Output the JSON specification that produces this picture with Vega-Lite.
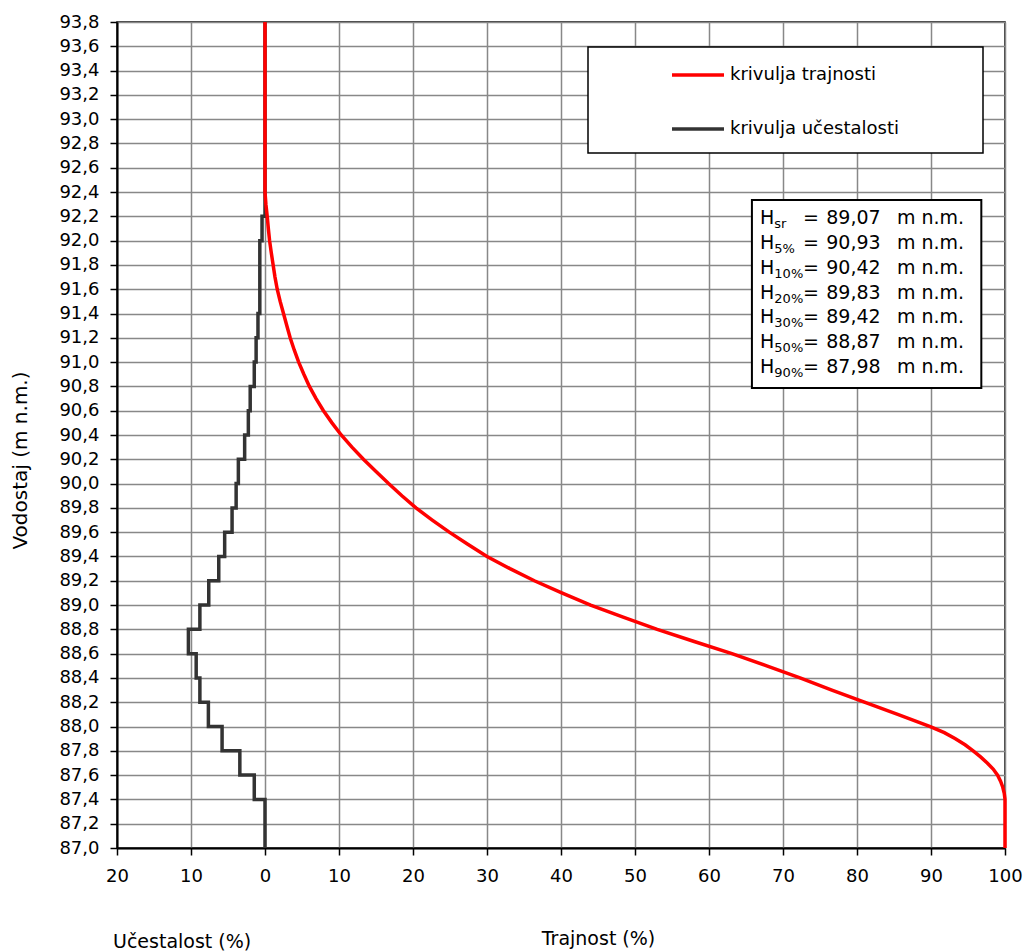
{
  "$schema": "https://vega.github.io/schema/vega-lite/v6.json",
  "width": 888,
  "height": 826,
  "autosize": {"type": "none"},
  "padding": {"left": 117, "top": 22, "right": 20, "bottom": 104},
  "background": "#ffffff",
  "title": {"text": "Učestalost (%)", "orient": "bottom", "anchor": "start", "frame": "group", "offset": -15, "dx": -4, "font": "DejaVu Sans", "fontSize": 19, "fontWeight": "normal", "color": "#000000"},
  "config": {
    "font": "DejaVu Sans",
    "view": {"stroke": "#000000", "strokeWidth": 1.5},
    "legend": {"strokeWidth": 1.5},
    "axis": {
      "grid": true, "gridColor": "#888888", "gridWidth": 1.5,
      "domainColor": "#000000", "domainWidth": 2,
      "tickColor": "#000000", "tickSize": 7, "tickWidth": 1.5,
      "labelFontSize": 18, "labelColor": "#000000", "labelFlush": false, "labelOverlap": false,
      "titleFontWeight": "normal", "titleColor": "#000000", "titleAlign": "center", "titleBaseline": "middle"
    },
    "axisX": {"labelPadding": 12, "titleFontSize": 19, "titleX": 481, "titleY": 90},
    "axisY": {"labelPadding": 11, "titleFontSize": 20, "titleX": -97, "titleY": 438, "titleAngle": -90}
  },
  "datasets": {
    "ucestalost": [
      {"vodostaj": 93.8, "postotak": 0, "krivulja": "krivulja učestalosti"},
      {"vodostaj": 92.2, "postotak": -0.4, "krivulja": "krivulja učestalosti"},
      {"vodostaj": 92.0, "postotak": -0.7, "krivulja": "krivulja učestalosti"},
      {"vodostaj": 91.8, "postotak": -0.7, "krivulja": "krivulja učestalosti"},
      {"vodostaj": 91.6, "postotak": -0.7, "krivulja": "krivulja učestalosti"},
      {"vodostaj": 91.4, "postotak": -0.95, "krivulja": "krivulja učestalosti"},
      {"vodostaj": 91.2, "postotak": -1.2, "krivulja": "krivulja učestalosti"},
      {"vodostaj": 91.0, "postotak": -1.45, "krivulja": "krivulja učestalosti"},
      {"vodostaj": 90.8, "postotak": -2.0, "krivulja": "krivulja učestalosti"},
      {"vodostaj": 90.6, "postotak": -2.25, "krivulja": "krivulja učestalosti"},
      {"vodostaj": 90.4, "postotak": -2.75, "krivulja": "krivulja učestalosti"},
      {"vodostaj": 90.2, "postotak": -3.6, "krivulja": "krivulja učestalosti"},
      {"vodostaj": 90.0, "postotak": -3.9, "krivulja": "krivulja učestalosti"},
      {"vodostaj": 89.8, "postotak": -4.45, "krivulja": "krivulja učestalosti"},
      {"vodostaj": 89.6, "postotak": -5.45, "krivulja": "krivulja učestalosti"},
      {"vodostaj": 89.4, "postotak": -6.25, "krivulja": "krivulja učestalosti"},
      {"vodostaj": 89.2, "postotak": -7.6, "krivulja": "krivulja učestalosti"},
      {"vodostaj": 89.0, "postotak": -8.8, "krivulja": "krivulja učestalosti"},
      {"vodostaj": 88.8, "postotak": -10.35, "krivulja": "krivulja učestalosti"},
      {"vodostaj": 88.6, "postotak": -9.3, "krivulja": "krivulja učestalosti"},
      {"vodostaj": 88.4, "postotak": -8.8, "krivulja": "krivulja učestalosti"},
      {"vodostaj": 88.2, "postotak": -7.65, "krivulja": "krivulja učestalosti"},
      {"vodostaj": 88.0, "postotak": -5.8, "krivulja": "krivulja učestalosti"},
      {"vodostaj": 87.8, "postotak": -3.4, "krivulja": "krivulja učestalosti"},
      {"vodostaj": 87.6, "postotak": -1.45, "krivulja": "krivulja učestalosti"},
      {"vodostaj": 87.4, "postotak": 0, "krivulja": "krivulja učestalosti"},
      {"vodostaj": 87.0, "postotak": 0, "krivulja": "krivulja učestalosti"}
    ],
    "trajnost": [
      {"vodostaj": 93.8, "postotak": 0, "krivulja": "krivulja trajnosti"},
      {"vodostaj": 92.4, "postotak": 0, "krivulja": "krivulja trajnosti"},
      {"vodostaj": 92.3, "postotak": 0.12, "krivulja": "krivulja trajnosti"},
      {"vodostaj": 92.2, "postotak": 0.3, "krivulja": "krivulja trajnosti"},
      {"vodostaj": 92.1, "postotak": 0.45, "krivulja": "krivulja trajnosti"},
      {"vodostaj": 92.0, "postotak": 0.62, "krivulja": "krivulja trajnosti"},
      {"vodostaj": 91.9, "postotak": 0.85, "krivulja": "krivulja trajnosti"},
      {"vodostaj": 91.8, "postotak": 1.1, "krivulja": "krivulja trajnosti"},
      {"vodostaj": 91.7, "postotak": 1.35, "krivulja": "krivulja trajnosti"},
      {"vodostaj": 91.6, "postotak": 1.65, "krivulja": "krivulja trajnosti"},
      {"vodostaj": 91.5, "postotak": 2.05, "krivulja": "krivulja trajnosti"},
      {"vodostaj": 91.4, "postotak": 2.5, "krivulja": "krivulja trajnosti"},
      {"vodostaj": 91.3, "postotak": 2.95, "krivulja": "krivulja trajnosti"},
      {"vodostaj": 91.2, "postotak": 3.4, "krivulja": "krivulja trajnosti"},
      {"vodostaj": 91.1, "postotak": 3.95, "krivulja": "krivulja trajnosti"},
      {"vodostaj": 91.0, "postotak": 4.55, "krivulja": "krivulja trajnosti"},
      {"vodostaj": 90.9, "postotak": 5.25, "krivulja": "krivulja trajnosti"},
      {"vodostaj": 90.8, "postotak": 6.0, "krivulja": "krivulja trajnosti"},
      {"vodostaj": 90.7, "postotak": 6.9, "krivulja": "krivulja trajnosti"},
      {"vodostaj": 90.6, "postotak": 7.9, "krivulja": "krivulja trajnosti"},
      {"vodostaj": 90.5, "postotak": 9.05, "krivulja": "krivulja trajnosti"},
      {"vodostaj": 90.4, "postotak": 10.3, "krivulja": "krivulja trajnosti"},
      {"vodostaj": 90.3, "postotak": 11.75, "krivulja": "krivulja trajnosti"},
      {"vodostaj": 90.2, "postotak": 13.3, "krivulja": "krivulja trajnosti"},
      {"vodostaj": 90.1, "postotak": 15.0, "krivulja": "krivulja trajnosti"},
      {"vodostaj": 90.0, "postotak": 16.7, "krivulja": "krivulja trajnosti"},
      {"vodostaj": 89.9, "postotak": 18.5, "krivulja": "krivulja trajnosti"},
      {"vodostaj": 89.8, "postotak": 20.4, "krivulja": "krivulja trajnosti"},
      {"vodostaj": 89.7, "postotak": 22.6, "krivulja": "krivulja trajnosti"},
      {"vodostaj": 89.6, "postotak": 24.9, "krivulja": "krivulja trajnosti"},
      {"vodostaj": 89.5, "postotak": 27.4, "krivulja": "krivulja trajnosti"},
      {"vodostaj": 89.4, "postotak": 30.0, "krivulja": "krivulja trajnosti"},
      {"vodostaj": 89.3, "postotak": 33.1, "krivulja": "krivulja trajnosti"},
      {"vodostaj": 89.2, "postotak": 36.4, "krivulja": "krivulja trajnosti"},
      {"vodostaj": 89.1, "postotak": 40.1, "krivulja": "krivulja trajnosti"},
      {"vodostaj": 89.0, "postotak": 44.0, "krivulja": "krivulja trajnosti"},
      {"vodostaj": 88.9, "postotak": 48.4, "krivulja": "krivulja trajnosti"},
      {"vodostaj": 88.8, "postotak": 53.0, "krivulja": "krivulja trajnosti"},
      {"vodostaj": 88.7, "postotak": 58.0, "krivulja": "krivulja trajnosti"},
      {"vodostaj": 88.6, "postotak": 63.1, "krivulja": "krivulja trajnosti"},
      {"vodostaj": 88.5, "postotak": 67.8, "krivulja": "krivulja trajnosti"},
      {"vodostaj": 88.4, "postotak": 72.3, "krivulja": "krivulja trajnosti"},
      {"vodostaj": 88.3, "postotak": 76.6, "krivulja": "krivulja trajnosti"},
      {"vodostaj": 88.2, "postotak": 81.0, "krivulja": "krivulja trajnosti"},
      {"vodostaj": 88.1, "postotak": 85.5, "krivulja": "krivulja trajnosti"},
      {"vodostaj": 88.0, "postotak": 89.9, "krivulja": "krivulja trajnosti"},
      {"vodostaj": 87.95, "postotak": 91.8, "krivulja": "krivulja trajnosti"},
      {"vodostaj": 87.9, "postotak": 93.3, "krivulja": "krivulja trajnosti"},
      {"vodostaj": 87.85, "postotak": 94.6, "krivulja": "krivulja trajnosti"},
      {"vodostaj": 87.8, "postotak": 95.7, "krivulja": "krivulja trajnosti"},
      {"vodostaj": 87.75, "postotak": 96.7, "krivulja": "krivulja trajnosti"},
      {"vodostaj": 87.7, "postotak": 97.6, "krivulja": "krivulja trajnosti"},
      {"vodostaj": 87.65, "postotak": 98.4, "krivulja": "krivulja trajnosti"},
      {"vodostaj": 87.6, "postotak": 99.0, "krivulja": "krivulja trajnosti"},
      {"vodostaj": 87.55, "postotak": 99.4, "krivulja": "krivulja trajnosti"},
      {"vodostaj": 87.5, "postotak": 99.7, "krivulja": "krivulja trajnosti"},
      {"vodostaj": 87.45, "postotak": 99.9, "krivulja": "krivulja trajnosti"},
      {"vodostaj": 87.4, "postotak": 100, "krivulja": "krivulja trajnosti"},
      {"vodostaj": 87.0, "postotak": 100, "krivulja": "krivulja trajnosti"}
    ],
    "stats": [
      {"oznaka": "sr", "vrijednost": "89,07"},
      {"oznaka": "5%", "vrijednost": "90,93"},
      {"oznaka": "10%", "vrijednost": "90,42"},
      {"oznaka": "20%", "vrijednost": "89,83"},
      {"oznaka": "30%", "vrijednost": "89,42"},
      {"oznaka": "50%", "vrijednost": "88,87"},
      {"oznaka": "90%", "vrijednost": "87,98"}
    ]
  },
  "layer": [
    {
      "layer": [
        {
          "data": {"name": "ucestalost"},
          "mark": {"type": "line", "interpolate": "step-before", "strokeWidth": 3.5},
          "encoding": {
            "x": {
              "field": "postotak", "type": "quantitative",
              "scale": {"domain": [-20, 100], "nice": false, "zero": false},
              "axis": {"values": [-20, -10, 0, 10, 20, 30, 40, 50, 60, 70, 80, 90, 100], "labelExpr": "format(abs(datum.value), 'd')", "title": "Trajnost (%)"}
            },
            "y": {
              "field": "vodostaj", "type": "quantitative",
              "scale": {"domain": [87, 93.8], "nice": false, "zero": false},
              "axis": {"values": [87.0, 87.2, 87.4, 87.6, 87.8, 88.0, 88.2, 88.4, 88.6, 88.8, 89.0, 89.2, 89.4, 89.6, 89.8, 90.0, 90.2, 90.4, 90.6, 90.8, 91.0, 91.2, 91.4, 91.6, 91.8, 92.0, 92.2, 92.4, 92.6, 92.8, 93.0, 93.2, 93.4, 93.6, 93.8], "labelExpr": "replace(format(datum.value, '.1f'), '.', ',')", "title": "Vodostaj (m n.m.)"}
            },
            "color": {
              "field": "krivulja", "type": "nominal",
              "scale": {"domain": ["krivulja trajnosti", "krivulja učestalosti"], "range": ["#ff0000", "#333333"]},
              "legend": {
                "orient": "none", "legendX": 471, "legendY": 25, "direction": "vertical",
                "fillColor": "#ffffff", "strokeColor": "#000000", "padding": 0,
                "symbolType": "stroke", "symbolSize": 2704, "symbolStrokeWidth": 3.5, "symbolOffset": 82,
                "labelOffset": 4, "labelFontSize": 18, "labelColor": "#000000", "labelLimit": 400,
                "rowPadding": 17,
                "title": " ", "titleOrient": "right", "titlePadding": 84, "titleFontSize": 107,
                "titleBaseline": "top", "titleAnchor": "start"
              }
            },
            "order": {"field": "vodostaj", "sort": "descending"}
          }
        },
        {
          "data": {"name": "trajnost"},
          "mark": {"type": "line", "strokeWidth": 3.5},
          "encoding": {
            "x": {"field": "postotak", "type": "quantitative",
              "axis": {"values": [-20, -10, 0, 10, 20, 30, 40, 50, 60, 70, 80, 90, 100], "labelExpr": "format(abs(datum.value), 'd')", "title": "Trajnost (%)"}},
            "y": {"field": "vodostaj", "type": "quantitative",
              "axis": {"values": [87.0, 87.2, 87.4, 87.6, 87.8, 88.0, 88.2, 88.4, 88.6, 88.8, 89.0, 89.2, 89.4, 89.6, 89.8, 90.0, 90.2, 90.4, 90.6, 90.8, 91.0, 91.2, 91.4, 91.6, 91.8, 92.0, 92.2, 92.4, 92.6, 92.8, 93.0, 93.2, 93.4, 93.6, 93.8], "labelExpr": "replace(format(datum.value, '.1f'), '.', ',')", "title": "Vodostaj (m n.m.)"}},
            "color": {"field": "krivulja", "type": "nominal"},
            "order": {"field": "vodostaj", "sort": "descending"}
          }
        },
        {
          "data": {"values": [{"okvir": "H"}]},
          "mark": {"type": "rect", "fill": "#ffffff", "stroke": "#000000", "strokeWidth": 2},
          "encoding": {
            "x": {"datum": 65.8, "type": "quantitative",
              "axis": {"values": [-20, -10, 0, 10, 20, 30, 40, 50, 60, 70, 80, 90, 100], "labelExpr": "format(abs(datum.value), 'd')", "title": "Trajnost (%)"}},
            "x2": {"datum": 96.8},
            "y": {"datum": 92.335, "type": "quantitative",
              "axis": {"values": [87.0, 87.2, 87.4, 87.6, 87.8, 88.0, 88.2, 88.4, 88.6, 88.8, 89.0, 89.2, 89.4, 89.6, 89.8, 90.0, 90.2, 90.4, 90.6, 90.8, 91.0, 91.2, 91.4, 91.6, 91.8, 92.0, 92.2, 92.4, 92.6, 92.8, 93.0, 93.2, 93.4, 93.6, 93.8], "labelExpr": "replace(format(datum.value, '.1f'), '.', ',')", "title": "Vodostaj (m n.m.)"}},
            "y2": {"datum": 90.787}
          }
        }
      ]
    },
    {
      "data": {"name": "stats"},
      "encoding": {
        "y": {
          "field": "oznaka", "type": "nominal",
          "scale": {"type": "point", "domain": ["sr", "5%", "10%", "20%", "30%", "50%", "90%"], "range": [196, 345], "padding": 0},
          "axis": null
        }
      },
      "layer": [
        {
          "mark": {"type": "text", "text": "H", "align": "left", "baseline": "middle", "fontSize": 19, "color": "#000000"},
          "encoding": {"x": {"datum": 66.89, "type": "quantitative"}}
        },
        {
          "mark": {"type": "text", "align": "left", "baseline": "middle", "fontSize": 13, "dy": 6, "color": "#000000"},
          "encoding": {"x": {"datum": 68.83, "type": "quantitative"}, "text": {"field": "oznaka"}}
        },
        {
          "mark": {"type": "text", "text": "=", "align": "left", "baseline": "middle", "fontSize": 19, "color": "#000000"},
          "encoding": {"x": {"datum": 72.7, "type": "quantitative"}}
        },
        {
          "mark": {"type": "text", "align": "left", "baseline": "middle", "fontSize": 19, "color": "#000000"},
          "encoding": {"x": {"datum": 75.84, "type": "quantitative"}, "text": {"field": "vrijednost"}}
        },
        {
          "mark": {"type": "text", "text": "m n.m.", "align": "left", "baseline": "middle", "fontSize": 19, "color": "#000000"},
          "encoding": {"x": {"datum": 85.4, "type": "quantitative"}}
        }
      ]
    }
  ],
  "resolve": {"scale": {"y": "independent"}}
}
